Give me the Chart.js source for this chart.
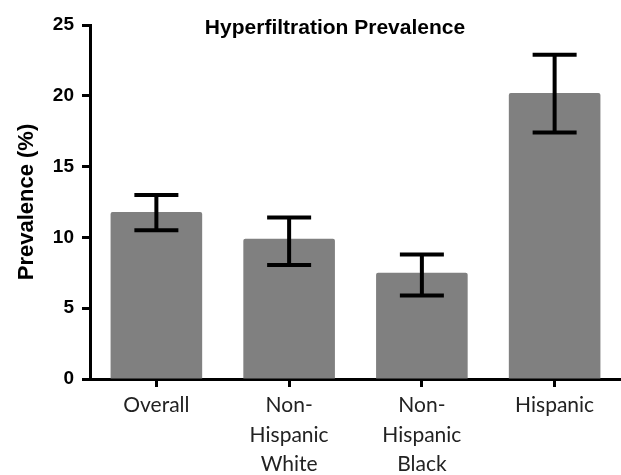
<!DOCTYPE html>
<html>
<head>
<meta charset="utf-8">
<script src="https://cdn.jsdelivr.net/npm/chart.js@4"></script>
<style>
  html, body { margin: 0; padding: 0; background: #fff; }
  #wrap { width: 621px; height: 475px; }
</style>
</head>
<body>
<div id="wrap"><canvas id="chart" width="621" height="475"></canvas></div>
<script>
// data
const categories = ["Overall", ["Non-", "Hispanic", "White"], ["Non-", "Hispanic", "Black"], "Hispanic"];
const prevalence = [11.8, 9.9, 7.5, 20.2];
const errLow = [10.5, 8.05, 5.9, 17.4];
const errHigh = [13.0, 11.4, 8.8, 22.9];
const yTicks = [0, 5, 10, 15, 20, 25];

// error bars drawn on top of the bars
const errorBars = {
  id: "errorBars",
  afterDatasetsDraw(chart) {
    const ctx = chart.ctx;
    const x = chart.scales.x;
    const y = chart.scales.y;
    ctx.save();
    ctx.strokeStyle = "#000";
    ctx.lineWidth = 4;
    ctx.lineCap = "butt";
    prevalence.forEach((v, i) => {
      const cx = x.getPixelForValue(i);
      const top = y.getPixelForValue(errHigh[i]);
      const bot = y.getPixelForValue(errLow[i]);
      ctx.beginPath();
      ctx.moveTo(cx, top);
      ctx.lineTo(cx, bot);
      ctx.moveTo(cx - 22, top);
      ctx.lineTo(cx + 22, top);
      ctx.moveTo(cx - 22, bot);
      ctx.lineTo(cx + 22, bot);
      ctx.stroke();
    });
    ctx.restore();
  }
};

// title sits level with the top of the axis
const topTitle = {
  id: "topTitle",
  afterDraw(chart) {
    const ctx = chart.ctx;
    ctx.save();
    ctx.fillStyle = "#000";
    ctx.font = "bold 21px Arial, 'Liberation Sans', sans-serif";
    ctx.textAlign = "center";
    ctx.textBaseline = "middle";
    ctx.fillText("Hyperfiltration Prevalence", 335, 28);
    ctx.restore();
  }
};

new Chart(document.getElementById("chart"), {
  type: "bar",
  data: {
    labels: categories,
    datasets: [{
      data: prevalence,
      backgroundColor: "#808080",
      borderRadius: 2,
      borderSkipped: "bottom",
      categoryPercentage: 1,
      barPercentage: 0.69
    }]
  },
  options: {
    responsive: false,
    animation: false,
    layout: { padding: { top: 25, right: 0, bottom: 0, left: 0 } },
    plugins: {
      legend: { display: false },
      tooltip: { enabled: false }
    },
    scales: {
      x: {
        afterFit(scale) { scale.height = 96; },
        grid: {
          display: true,
          offset: false,
          drawOnChartArea: false,
          drawTicks: true,
          tickLength: 8,
          tickWidth: 3,
          color: "#000"
        },
        border: { display: true, color: "#000", width: 3 },
        ticks: {
          color: "#222",
          padding: 4,
          maxRotation: 0,
          autoSkip: false,
          font: { family: "Lato, 'Open Sans', sans-serif", size: 21, lineHeight: 1.4 }
        }
      },
      y: {
        min: 0,
        max: 25,
        afterFit(scale) { scale.width = 90; },
        afterBuildTicks(scale) { scale.ticks = yTicks.map(v => ({ value: v })); },
        grid: {
          display: true,
          drawOnChartArea: false,
          drawTicks: true,
          tickLength: 8,
          tickWidth: 3,
          color: "#000"
        },
        border: { display: true, color: "#000", width: 3 },
        ticks: {
          color: "#000",
          padding: 8,
          font: { family: "Arial, 'Liberation Sans', sans-serif", size: 19, weight: "bold" }
        },
        title: {
          display: true,
          text: "Prevalence (%)",
          color: "#000",
          padding: { top: 14, bottom: 0 },
          font: { family: "Arial, 'Liberation Sans', sans-serif", size: 22, weight: "bold" }
        }
      }
    }
  },
  plugins: [errorBars, topTitle]
});
</script>
</body>
</html>
